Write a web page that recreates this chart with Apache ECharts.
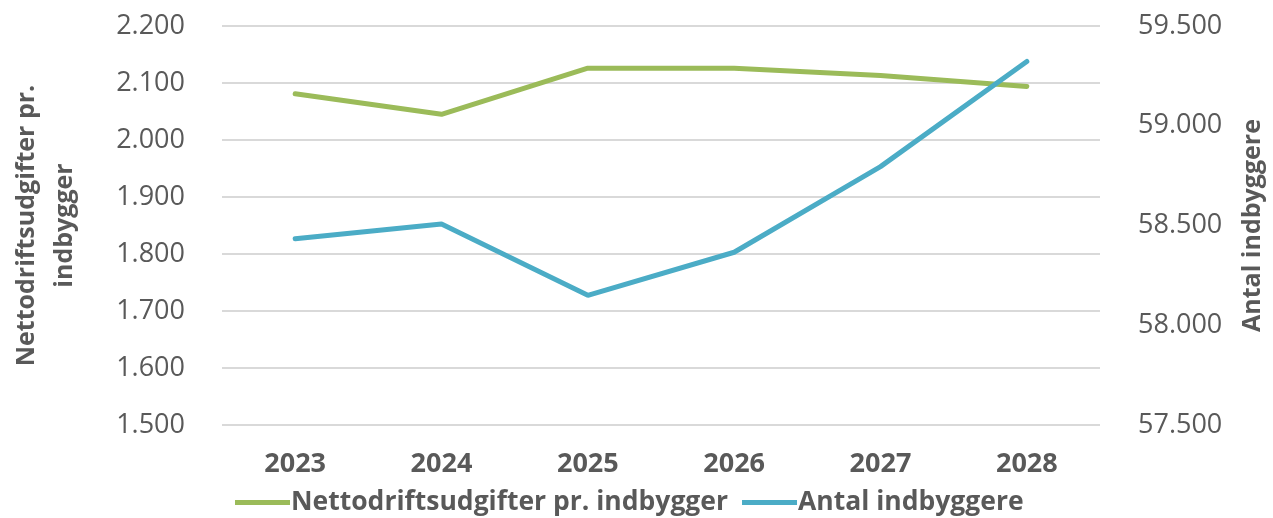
<!DOCTYPE html>
<html>
<head>
<meta charset="utf-8">
<script src="https://cdn.jsdelivr.net/npm/echarts@6/dist/echarts.min.js"></script>
<style>
  html, body { margin: 0; padding: 0; background: #fff; }
  #chart { width: 1273px; height: 518px; }
</style>
</head>
<body>
<div id="chart"></div>
<script>
const years = ['2023', '2024', '2025', '2026', '2027', '2028'];
const udgifter = [2081, 2045, 2126, 2126, 2113, 2094];
const indbyggere = [58434, 58508, 58150, 58366, 58795, 59322];
const leftName = 'Nettodriftsudgifter pr.\nindbygger';
const rightName = 'Antal indbyggere';

const font = '"Open Sans", Lato, sans-serif';
const grey = '#595959';

// tusindtalsseparator med punktum, som i den danske figur
const fmtThousand = (v) => {
  const t = Math.floor(v / 1000);
  const r = String(v % 1000).padStart(3, '0');
  return t + '.' + r;
};

const chart = echarts.init(document.getElementById('chart'));
chart.setOption({
  animation: false,
  textStyle: { fontFamily: font },
  grid: { left: 208, right: 170, top: 26, bottom: 93 },
  legend: {
    left: 230,
    top: 484,
    itemWidth: 55,
    itemHeight: 5,
    itemGap: 14,
    icon: 'rect',
    textStyle: { fontFamily: font, fontSize: 26.5, fontWeight: 'bold', color: grey, padding: [0, 0, 0, -4] },
    data: ['Nettodriftsudgifter pr. indbygger', 'Antal indbyggere']
  },
  xAxis: {
    type: 'category',
    data: years,
    boundaryGap: true,
    axisLine: { show: false },
    axisTick: { show: false },
    axisLabel: { fontSize: 27, fontWeight: 'bold', color: grey, margin: 26 }
  },
  yAxis: [
    {
      type: 'value',
      min: 1500,
      max: 2200,
      interval: 100,
      name: leftName,
      nameLocation: 'middle',
      nameGap: 138,
      nameRotate: 90,
      nameTextStyle: { fontSize: 25, fontWeight: 'bold', color: grey, lineHeight: 38 },
      axisLine: { show: false },
      axisTick: { show: false },
      splitLine: { lineStyle: { color: '#d9d9d9', width: 2 } },
      axisLabel: { fontSize: 27, color: grey, margin: 37, formatter: fmtThousand }
    },
    {
      type: 'value',
      min: 57500,
      max: 59500,
      interval: 500,
      name: rightName,
      nameLocation: 'middle',
      nameGap: 140,
      nameRotate: 90,
      nameTextStyle: { fontSize: 25, fontWeight: 'bold', color: grey, padding: [0, 0, 20, 0] },
      axisLine: { show: false },
      axisTick: { show: false },
      splitLine: { show: false },
      axisLabel: { fontSize: 27, color: grey, margin: 38, formatter: fmtThousand }
    }
  ],
  series: [
    {
      name: 'Nettodriftsudgifter pr. indbygger',
      type: 'line',
      yAxisIndex: 0,
      data: udgifter,
      symbol: 'none',
      lineStyle: { color: '#9BBB59', width: 5, cap: 'round' },
      itemStyle: { color: '#9BBB59' }
    },
    {
      name: 'Antal indbyggere',
      type: 'line',
      yAxisIndex: 1,
      data: indbyggere,
      symbol: 'none',
      lineStyle: { color: '#4BACC6', width: 5, cap: 'round' },
      itemStyle: { color: '#4BACC6' }
    }
  ]
});
</script>
</body>
</html>
